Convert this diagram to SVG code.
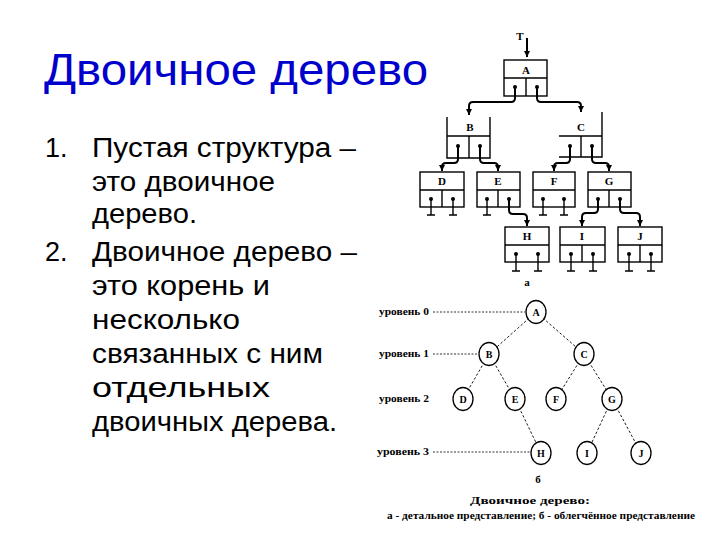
<svg xmlns="http://www.w3.org/2000/svg" width="720" height="540" viewBox="0 0 720 540">
<defs>
<style>
.title{font-family:"Liberation Sans",Arial,sans-serif;font-size:44px;fill:#0000cc}
.li{font-family:"Liberation Sans",Arial,sans-serif;font-size:27px;fill:#000}
.box{fill:none;stroke:#000;stroke-width:1.4}
.lbl{font-family:"Liberation Serif","Times New Roman",serif;font-size:11px;font-weight:bold;text-anchor:middle;fill:#000}
.dot{fill:#000}
.conn{fill:none;stroke:#000;stroke-width:2}
.nul{fill:none;stroke:#000;stroke-width:1.4}
.edge{stroke:#000;stroke-width:0.9;stroke-dasharray:2.5,2}
.lvl{stroke:#000;stroke-width:0.8;stroke-dasharray:2,1.5}
.circ{fill:#fff;stroke:#000;stroke-width:1.3}
.cl{font-family:"Liberation Serif","Times New Roman",serif;font-size:10px;font-weight:bold;text-anchor:middle;fill:#000}
.cap{font-family:"Liberation Serif","Times New Roman",serif;font-size:11px;font-weight:bold;fill:#000}
</style>
<marker id="ah" markerUnits="userSpaceOnUse" markerWidth="8" markerHeight="8" refX="6" refY="3" orient="auto">
<path d="M0,0 L6,3 L0,6 Z" fill="#000"/>
</marker>
</defs>
<rect width="720" height="540" fill="#fff"/>

<g id="text">
<text class="title" x="44" y="85" textLength="384" lengthAdjust="spacingAndGlyphs">Двоичное дерево</text>
<text class="li" x="45" y="157">1.</text>
<text class="li" x="92" y="157" textLength="264" lengthAdjust="spacingAndGlyphs">Пустая структура –</text>
<text class="li" x="92" y="191" textLength="183" lengthAdjust="spacingAndGlyphs">это двоичное</text>
<text class="li" x="92" y="223" textLength="105" lengthAdjust="spacingAndGlyphs">дерево.</text>
<text class="li" x="45" y="261">2.</text>
<text class="li" x="92" y="261" textLength="265" lengthAdjust="spacingAndGlyphs">Двоичное дерево –</text>
<text class="li" x="92" y="295" textLength="178" lengthAdjust="spacingAndGlyphs">это корень и</text>
<text class="li" x="92" y="329" textLength="148" lengthAdjust="spacingAndGlyphs">несколько</text>
<text class="li" x="92" y="363" textLength="231" lengthAdjust="spacingAndGlyphs">связанных с ним</text>
<text class="li" x="92" y="397" textLength="178" lengthAdjust="spacingAndGlyphs">отдельных</text>
<text class="li" x="92" y="431" textLength="245" lengthAdjust="spacingAndGlyphs">двоичных дерева.</text>
</g>

<g id="connectors">
<path class="conn" d="M527,38 L527,57" stroke-width="1.3" marker-end="url(#ah)"/>
<path class="conn" d="M515,87 L515,98 Q515,102 511,102 L473,102 Q469,102 469,106 L469,115" marker-end="url(#ah)"/>
<path class="conn" d="M537,87 L537,98 Q537,102 541,102 L577,102 Q581,102 581,106 L581,112" marker-end="url(#ah)"/>
<path class="conn" d="M458,146 L458,159 Q458,163 454,163 L446,163 Q442,163 442,167 L442,171" marker-end="url(#ah)"/>
<path class="conn" d="M480,146 L480,159 Q480,163 484,163 L494,163 Q498,163 498,167 L498,171" marker-end="url(#ah)"/>
<path class="conn" d="M570,146 L570,159 Q570,163 566,163 L558,163 Q554,163 554,167 L554,171" marker-end="url(#ah)"/>
<path class="conn" d="M592,146 L592,159 Q592,163 596,163 L605,163 Q609,163 609,167 L609,171" marker-end="url(#ah)"/>
<path class="conn" d="M509,199 L509,210 Q509,214 513,214 L523,214 Q527,214 527,218 L527,226" stroke-width="1.4" marker-end="url(#ah)"/>
<path class="conn" d="M598,199 L598,209 Q598,213 594,213 L586,213 Q582,213 582,217 L582,226" marker-end="url(#ah)"/>
<path class="conn" d="M620,199 L620,209 Q620,213 624,213 L636,213 Q640,213 640,217 L640,226" marker-end="url(#ah)"/>
<g id="nulls">
<path class="nul" d="M431,199 V215 M427,215 H435 M453,199 V215 M449,215 H457"/>
<path class="nul" d="M487,199 V215 M483,215 H491"/>
<path class="nul" d="M543,199 V215 M539,215 H547 M564,199 V215 M560,215 H568"/>
<path class="nul" d="M516,254 V271 M512,271 H520 M538,254 V271 M534,271 H542"/>
<path class="nul" d="M571,254 V271 M567,271 H575 M593,254 V271 M589,271 H597"/>
<path class="nul" d="M629,254 V271 M625,271 H633 M651,254 V271 M647,271 H655"/>
</g>
<g id="tree-edges">
<line class="edge" x1="536" y1="312" x2="489" y2="354"/>
<line class="edge" x1="536" y1="312" x2="584" y2="354"/>
<line class="edge" x1="489" y1="354" x2="463" y2="399"/>
<line class="edge" x1="489" y1="354" x2="515" y2="399"/>
<line class="edge" x1="584" y1="354" x2="556" y2="399"/>
<line class="edge" x1="584" y1="354" x2="612" y2="399"/>
<line class="edge" x1="515" y1="399" x2="541" y2="453"/>
<line class="edge" x1="612" y1="399" x2="587" y2="453"/>
<line class="edge" x1="612" y1="399" x2="641" y2="453"/>
<line class="lvl" x1="433" y1="312" x2="525" y2="312"/>
<line class="lvl" x1="433" y1="354" x2="478" y2="354"/>
<line class="lvl" x1="433" y1="452" x2="530" y2="452"/>
</g>
</g>

<text class="lbl" x="520" y="40" font-weight="normal" font-size="12">T</text>

<g id="nA"><rect class="box" x="504" y="60" width="43" height="36"/><path class="box" d="M504,78 H547 M526,78 V96"/><text class="lbl" x="526" y="74">A</text><circle class="dot" cx="515" cy="87" r="2"/><circle class="dot" cx="537" cy="87" r="2"/></g>
<g id="nB"><path class="box" d="M447,117 V158 H490 V117 M447,136 H490 M469,136 V158"/><text class="lbl" x="470" y="131">B</text><circle class="dot" cx="458" cy="146" r="2"/><circle class="dot" cx="480" cy="146" r="2"/></g>
<g id="nC"><path class="box" d="M559,157 H602 V112 M559,136 H602 M581,136 V157"/><text class="lbl" x="581" y="131">C</text><circle class="dot" cx="570" cy="146" r="2"/><circle class="dot" cx="592" cy="146" r="2"/></g>
<g id="nD"><rect class="box" x="420" y="172" width="44" height="35"/><path class="box" d="M420,190 H464 M442,190 V207"/><text class="lbl" x="442" y="185">D</text><circle class="dot" cx="431" cy="199" r="2"/><circle class="dot" cx="453" cy="199" r="2"/></g>
<g id="nE"><rect class="box" x="477" y="172" width="43" height="35"/><path class="box" d="M477,190 H520 M498,190 V207"/><text class="lbl" x="498" y="185">E</text><circle class="dot" cx="487" cy="199" r="2"/><circle class="dot" cx="509" cy="199" r="2"/></g>
<g id="nF"><rect class="box" x="533" y="172" width="42" height="35"/><path class="box" d="M533,190 H575"/><text class="lbl" x="554" y="185">F</text><circle class="dot" cx="543" cy="199" r="2"/><circle class="dot" cx="564" cy="199" r="2"/></g>
<g id="nG"><rect class="box" x="588" y="172" width="43" height="35"/><path class="box" d="M588,190 H631 M609,190 V207"/><text class="lbl" x="609" y="185">G</text><circle class="dot" cx="598" cy="199" r="2"/><circle class="dot" cx="620" cy="199" r="2"/></g>
<g id="nH"><rect class="box" x="505" y="227" width="44" height="35"/><path class="box" d="M505,245 H549"/><text class="lbl" x="527" y="240">H</text><circle class="dot" cx="516" cy="254" r="2"/><circle class="dot" cx="538" cy="254" r="2"/></g>
<g id="nI"><rect class="box" x="560" y="227" width="45" height="35"/><path class="box" d="M560,245 H605 M582,245 V262"/><text class="lbl" x="582" y="240">I</text><circle class="dot" cx="571" cy="254" r="2"/><circle class="dot" cx="593" cy="254" r="2"/></g>
<g id="nJ"><rect class="box" x="618" y="227" width="44" height="35"/><path class="box" d="M618,245 H662 M640,245 V262"/><text class="lbl" x="640" y="240">J</text><circle class="dot" cx="629" cy="254" r="2"/><circle class="dot" cx="651" cy="254" r="2"/></g>
<text class="cap" x="527" y="286" text-anchor="middle">а</text>

<g id="levels">
<text class="cap" x="379" y="315" textLength="50" lengthAdjust="spacingAndGlyphs">уровень 0</text>
<text class="cap" x="379" y="357" textLength="50" lengthAdjust="spacingAndGlyphs">уровень 1</text>
<text class="cap" x="379" y="402" textLength="50" lengthAdjust="spacingAndGlyphs">уровень 2</text>
<text class="cap" x="377" y="455" textLength="52" lengthAdjust="spacingAndGlyphs">уровень 3</text>
</g>

<g id="cA"><ellipse class="circ" cx="536" cy="312" rx="10" ry="11.5"/><text class="cl" x="536" y="316">A</text></g>
<g id="cB"><ellipse class="circ" cx="489" cy="354" rx="10" ry="11.5"/><text class="cl" x="489" y="358">B</text></g>
<g id="cC"><ellipse class="circ" cx="584" cy="354" rx="10" ry="11.5"/><text class="cl" x="584" y="358">C</text></g>
<g id="cD"><ellipse class="circ" cx="463" cy="399" rx="10" ry="11.5"/><text class="cl" x="463" y="403">D</text></g>
<g id="cE"><ellipse class="circ" cx="515" cy="399" rx="10" ry="11.5"/><text class="cl" x="515" y="403">E</text></g>
<g id="cF"><ellipse class="circ" cx="556" cy="399" rx="10" ry="11.5"/><text class="cl" x="556" y="403">F</text></g>
<g id="cG"><ellipse class="circ" cx="612" cy="399" rx="10" ry="11.5"/><text class="cl" x="612" y="403">G</text></g>
<g id="cH"><ellipse class="circ" cx="541" cy="453" rx="10" ry="11.5"/><text class="cl" x="541" y="457">H</text></g>
<g id="cI"><ellipse class="circ" cx="587" cy="453" rx="10" ry="11.5"/><text class="cl" x="587" y="457">I</text></g>
<g id="cJ"><ellipse class="circ" cx="641" cy="453" rx="10" ry="11.5"/><text class="cl" x="641" y="457">J</text></g>

<g id="caption">
<text class="cap" x="538" y="483" text-anchor="middle">б</text>
<text class="cap" x="470" y="504" font-size="12" textLength="120" lengthAdjust="spacingAndGlyphs">Двоичное дерево:</text>
<text class="cap" x="387" y="519" font-weight="normal" textLength="308" lengthAdjust="spacingAndGlyphs">а - детальное представление;  б - облегчённое представление</text>
</g>
</svg>
